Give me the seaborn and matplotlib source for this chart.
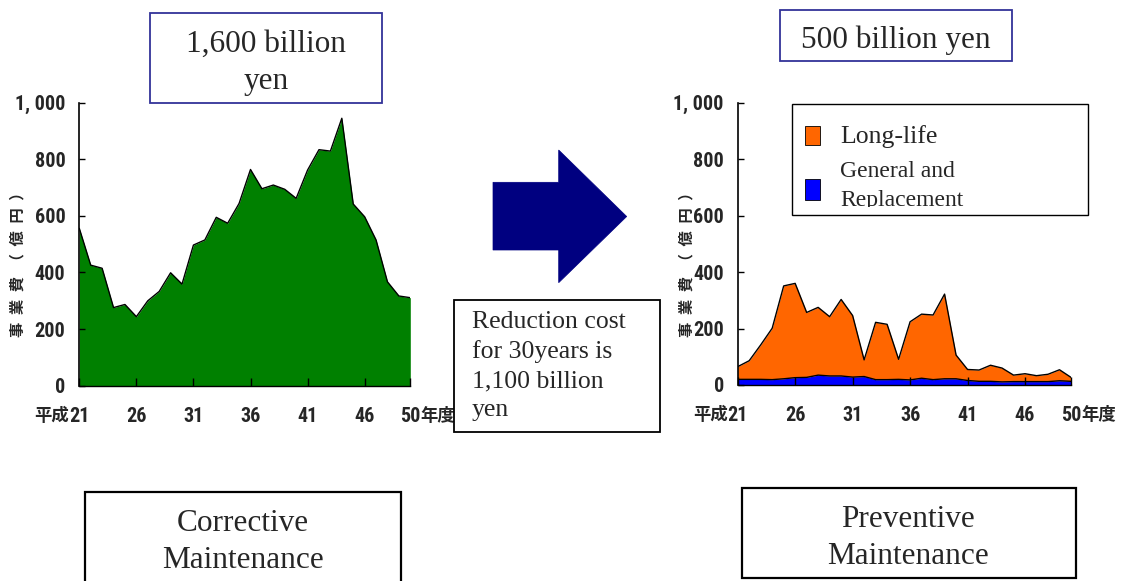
import numpy as np
import pandas as pd
import seaborn as sns
import matplotlib
matplotlib.use("Agg")
import matplotlib.pyplot as plt
from matplotlib import font_manager as fm
from matplotlib.patches import Rectangle, Polygon
from matplotlib.transforms import Bbox, TransformedBbox

# ---- data (億円 per fiscal year, 平成21–50) ----
years = list(range(21, 51))
corrective = [556, 426, 415, 276, 287, 244, 300, 333, 399, 359,
              497, 515, 595, 574, 644, 764, 696, 709, 694, 662,
              762, 834, 829, 945, 642, 597, 515, 367, 317, 311]
general_replacement = [20, 20, 20, 19, 22, 26, 27, 35, 32, 32,
                       28, 30, 19, 19, 20, 18, 24, 19, 22, 22,
                       16, 13, 13, 11, 12, 12, 12, 12, 15, 13]
long_life = [45, 66, 122, 182, 329, 334, 230, 240, 210, 271,
             218, 59, 203, 196, 71, 206, 227, 229, 300, 84,
             39, 40, 57, 49, 23, 28, 21, 26, 39, 14]
tick_years = [21, 26, 31, 36, 41, 46, 50]
tick_labels = ["21", "26", "31", "36", "41", "46", "50"]
era_prefix = "平成"
year_suffix = "年度"
y_ticks = [0, 200, 400, 600, 800, 1000]
y_tick_labels = ["0", "200", "400", "600", "800", "1, 000"]
y_label = "事\u2002業\u2002費\u2002（\u2002億\u2002円\u2002）"

df_c = pd.DataFrame({"year": years, "cost": corrective})
df_p = pd.DataFrame({"year": years,
                     "general": general_replacement,
                     "total": np.add(general_replacement, long_life)})

sns.set_theme(style="white")

# pick a narrow sans for the axis numbers if one is installed
available = {f.name for f in fm.fontManager.ttflist}
condensed = {f.name for f in fm.fontManager.ttflist
             if f.stretch in ("condensed", "semi-condensed", "extra-condensed")}
narrow = None
for cand in ["Liberation Sans Narrow", "Arial Narrow", "Roboto Condensed",
             "Open Sans Condensed", "DejaVu Sans Condensed", "Noto Sans Condensed"]:
    if cand in available:
        narrow = cand
        break
stretch = "normal"
if narrow is None and condensed:
    narrow = sorted(condensed)[0]
    stretch = "condensed"

num_family = ([narrow] if narrow else []) + ["Noto Sans CJK JP", "DejaVu Sans"]
cjk_family = ["Noto Sans CJK JP", "DejaVu Sans"]
plt.rcParams["font.family"] = num_family
plt.rcParams["axes.unicode_minus"] = False

W, H = 1121, 581
fig = plt.figure(figsize=(W / 100, H / 100), dpi=100)
fig.patch.set_facecolor("white")


def fx(x):
    return x / W


def fy(y):
    return 1 - y / H


def px_axes(x0, y0, x1, y1):
    return fig.add_axes([fx(x0), fy(y1), fx(x1) - fx(x0), (y1 - y0) / H])


ax1 = px_axes(79.3, 102.7, 410.3, 385.7)
ax2 = px_axes(737.7, 102.7, 1071.0, 385.0)

tick_font = dict(family=num_family, weight="bold",
                 size=14.5 if narrow else 12.5, stretch=stretch)

# corrective maintenance: single green area
ax1.fill_between(df_c["year"], 0, df_c["cost"], color="#008000", linewidth=0, zorder=1)
sns.lineplot(data=df_c, x="year", y="cost", ax=ax1, color="black", linewidth=1.0, zorder=2)

# preventive maintenance: stacked areas
ax2.fill_between(df_p["year"], df_p["general"], df_p["total"], color="#FF6600", linewidth=0, zorder=1)
ax2.fill_between(df_p["year"], 0, df_p["general"], color="#0000FF", linewidth=0, zorder=1)
sns.lineplot(data=df_p, x="year", y="total", ax=ax2, color="black", linewidth=1.0, zorder=2)
sns.lineplot(data=df_p, x="year", y="general", ax=ax2, color="black", linewidth=1.0, zorder=2)

for ax in (ax1, ax2):
    ax.set_xlim(21, 50)
    ax.set_ylim(0, 1000)
    ax.set_axisbelow(False)
    for s in ("top", "right"):
        ax.spines[s].set_visible(False)
    ax.spines["left"].set_color("black")
    ax.spines["left"].set_linewidth(1.2)
    ax.spines["bottom"].set_color("black")
    ax.spines["bottom"].set_linewidth(1.0)
    ax.spines["left"].set_zorder(5)
    ax.set_xticks(tick_years)
    ax.set_xticklabels(tick_labels, **tick_font)
    ax.set_yticks(y_ticks)
    ax.set_yticklabels(y_tick_labels, **tick_font)
    ax.tick_params(axis="x", direction="in", length=6, width=1.0, color="black", pad=15,
                   bottom=True)
    ax.tick_params(axis="y", direction="in", length=4, width=1.0, color="black", pad=10,
                   left=True)
    ax.set_xlabel("")
    ax.set_ylabel(y_label, fontsize=11, weight="bold", family=cjk_family)
    ax.set_facecolor("none")
    # era prefix before the first year, fiscal-year suffix after the last
    ax.annotate(era_prefix, xy=(tick_years[0], 0), xycoords=("data", "axes fraction"),
                xytext=(-10, -30), textcoords="offset pixels", ha="right", va="center",
                fontsize=12.5, weight="bold", family=cjk_family, annotation_clip=False)
    ax.annotate(year_suffix, xy=(tick_years[-1], 0), xycoords=("data", "axes fraction"),
                xytext=(10, -30), textcoords="offset pixels", ha="left", va="center",
                fontsize=12.5, weight="bold", family=cjk_family, annotation_clip=False)

ax1.yaxis.set_label_coords(-0.164, 0.44)
ax2.yaxis.set_label_coords(-0.131, 0.44)

serif = ["Liberation Serif", "DejaVu Serif"]


def box(x0, y0, x1, y1, edge, lw):
    fig.add_artist(Rectangle((fx(x0), fy(y1)), fx(x1) - fx(x0), (y1 - y0) / H,
                             transform=fig.transFigure, facecolor="white",
                             edgecolor=edge, linewidth=lw, zorder=3))


# total cost boxes
box(150, 13.3, 382, 102.7, "#333399", 1.3)
fig.text(fx(266), fy(63), "1,600 billion\nyen", ha="center", va="center",
         family=serif, fontsize=22.5, linespacing=1.35, zorder=4)
box(780, 10, 1012, 61, "#333399", 1.3)
fig.text(fx(896), fy(40), "500 billion yen", ha="center", va="center",
         family=serif, fontsize=22.5, zorder=4)

# maintenance type boxes
box(85, 491.7, 401, 600, "black", 1.6)
fig.text(fx(243), fy(542), "Corrective\nMaintenance", ha="center", va="center",
         family=serif, fontsize=22.5, linespacing=1.35, zorder=4)
box(741.7, 488, 1076, 578, "black", 1.6)
fig.text(fx(908), fy(538), "Preventive\nMaintenance", ha="center", va="center",
         family=serif, fontsize=22.5, linespacing=1.35, zorder=4)

# reduction note
box(454, 300, 660, 431.7, "black", 1.3)
fig.text(fx(471.7), fy(366), "Reduction cost\nfor 30years is\n1,100 billion\nyen",
         ha="left", va="center", family=serif, fontsize=18.5, linespacing=1.4, zorder=4)

# arrow between the two charts
arrow_pts = [(493, 182.3), (558.7, 182.3), (558.7, 150), (626.7, 216.5),
             (558.7, 282.7), (558.7, 250), (493, 250)]
fig.add_artist(Polygon([(fx(x), fy(y)) for x, y in arrow_pts], closed=True,
                       transform=fig.transFigure, facecolor="#000080",
                       edgecolor="#000080", linewidth=0.5, zorder=3))

# legend for the preventive chart
box(791.7, 104.3, 1088, 215, "black", 1.0)
fig.add_artist(Rectangle((fx(805), fy(145)), 15 / W, 19 / H, transform=fig.transFigure,
                         facecolor="#FF6600", edgecolor="black", linewidth=0.6, zorder=4))
fig.add_artist(Rectangle((fx(805), fy(200)), 15 / W, 21 / H, transform=fig.transFigure,
                         facecolor="#0000FF", edgecolor="black", linewidth=0.6, zorder=4))
fig.text(fx(840), fy(143.3), "Long-life", ha="left", va="baseline",
         family=serif, fontsize=18.5, zorder=4)
fig.text(fx(840), fy(177.3), "General and", ha="left", va="baseline",
         family=serif, fontsize=17, zorder=4)
t = fig.text(fx(840), fy(206), "Replacement", ha="left", va="baseline",
             family=serif, fontsize=17, zorder=4)
t.set_clip_box(TransformedBbox(Bbox([[fx(792), fy(207)], [fx(1087), fy(180)]]),
                               fig.transFigure))
t.set_clip_on(True)

fig.savefig("out.png", dpi=100)
